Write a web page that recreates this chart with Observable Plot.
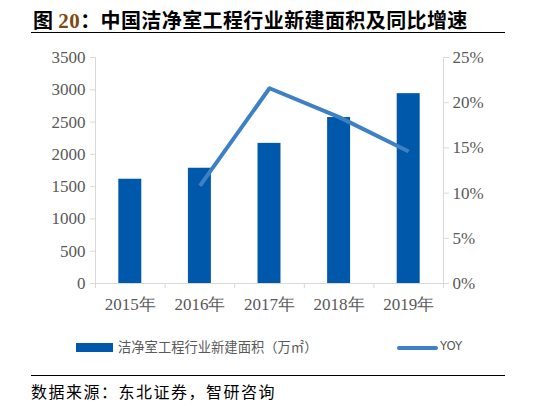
<!DOCTYPE html>
<html><head><meta charset="utf-8">
<script src="https://cdn.jsdelivr.net/npm/d3@7"></script>
<script src="https://cdn.jsdelivr.net/npm/@observablehq/plot@0.6"></script>
<style>
body{margin:0;background:#fff;}
#wrap{position:relative;width:539px;height:406px;overflow:hidden;background:#fff;font-family:"Noto Sans CJK SC",sans-serif;}
#title{position:absolute;left:33px;top:5px;font-size:20px;font-weight:bold;color:#000;white-space:nowrap;letter-spacing:0.4px;}
#title .num{font-family:"Liberation Serif",serif;color:#7a4a10;font-size:21px;}
.hr{position:absolute;left:31px;width:474px;height:0;border-top:1.5px solid #000;}
#chart{position:absolute;left:0;top:40px;}
.lg{position:absolute;font-size:13.3px;color:#595959;white-space:nowrap;}
#source{position:absolute;left:31px;top:379px;font-size:16px;letter-spacing:1.5px;color:#000;white-space:nowrap;}
</style></head>
<body><div id="wrap">
<div id="title">图 <span class="num">20</span>：中国洁净室工程行业新建面积及同比增速</div>
<div class="hr" style="top:32px"></div>
<div id="chart"></div>
<div class="lg" style="left:76px;top:343px;width:37px;height:9px;background:#0058AA;"></div>
<div class="lg" style="left:118px;top:337px;">洁净室工程行业新建面积（万㎡）</div>
<div class="lg" style="left:397px;top:346px;width:41px;height:4px;background:#3D80C3;border-radius:2px;"></div>
<div class="lg" style="left:440px;top:338px;font-family:'DejaVu Sans Condensed',sans-serif;font-size:13px;">YOY</div>
<div class="hr" style="top:375px"></div>
<div id="source">数据来源：东北证券，智研咨询</div>
</div>
<script>
const years = ["2015年","2016年","2017年","2018年","2019年"];
const area = [1615, 1785, 2170, 2570, 2940];
const yoy = [null, 0.108, 0.216, 0.184, 0.146];
const leftTicks = [0,500,1000,1500,2000,2500,3000,3500];
const rightTicks = [0,0.05,0.10,0.15,0.20,0.25];

const yMax = 3500, rMax = 0.25, k = yMax / rMax;
const barHalf = 0.165;
const bars = years.map((y,i)=>({year:y,i,v:area[i]}));
const line = years.map((y,i)=>({year:y,i,v:yoy[i]})).filter(d=>d.v!=null);

const chart = Plot.plot({
  width:539, height:280,
  marginLeft:95, marginRight:96, marginTop:17, marginBottom:37,
  style:{fontFamily:"'Liberation Serif',serif", fontSize:"17px", color:"#595959", background:"transparent"},
  x:{type:"linear", domain:[0, years.length], label:null},
  y:{domain:[0,yMax], label:null},
  marks:[
    Plot.rectY(bars,{x1:d=>d.i+0.5-barHalf, x2:d=>d.i+0.5+barHalf, y1:0, y2:"v", fill:"#0058AA"}),
    Plot.ruleY([0],{stroke:"#d9d9d9", strokeWidth:1}),
    Plot.ruleX([0],{stroke:"#d9d9d9"}),
    Plot.ruleX([years.length],{stroke:"#d9d9d9"}),
    Plot.axisY({ticks:leftTicks, tickSize:5, tickPadding:5, stroke:"#d9d9d9", fill:"#595959", tickFormat:d=>String(d), fontSize:17, label:null}),
    Plot.axisY({anchor:"right", ticks:rightTicks.map(t=>t*k), tickSize:5, tickPadding:4, stroke:"#d9d9d9", fill:"#595959", tickFormat:d=>Math.round(d/k*100)+"%", fontSize:17, label:null}),
    Plot.axisX({ticks:d3.range(0, years.length+1), tickSize:5, stroke:"#d9d9d9", tickFormat:()=>"", label:null}),
    Plot.axisX({ticks:years.map((_,i)=>i+0.5), tickSize:0, tickPadding:14, fill:"#595959", tickFormat:d=>years[Math.floor(d)], fontSize:17, label:null}),
    Plot.line(line,{x:d=>d.i+0.5, y:d=>d.v*k, stroke:"#3D80C3", strokeWidth:4, strokeLinejoin:"round", strokeLinecap:"butt"})
  ]
});
document.getElementById("chart").appendChild(chart);
</script>
</body></html>
